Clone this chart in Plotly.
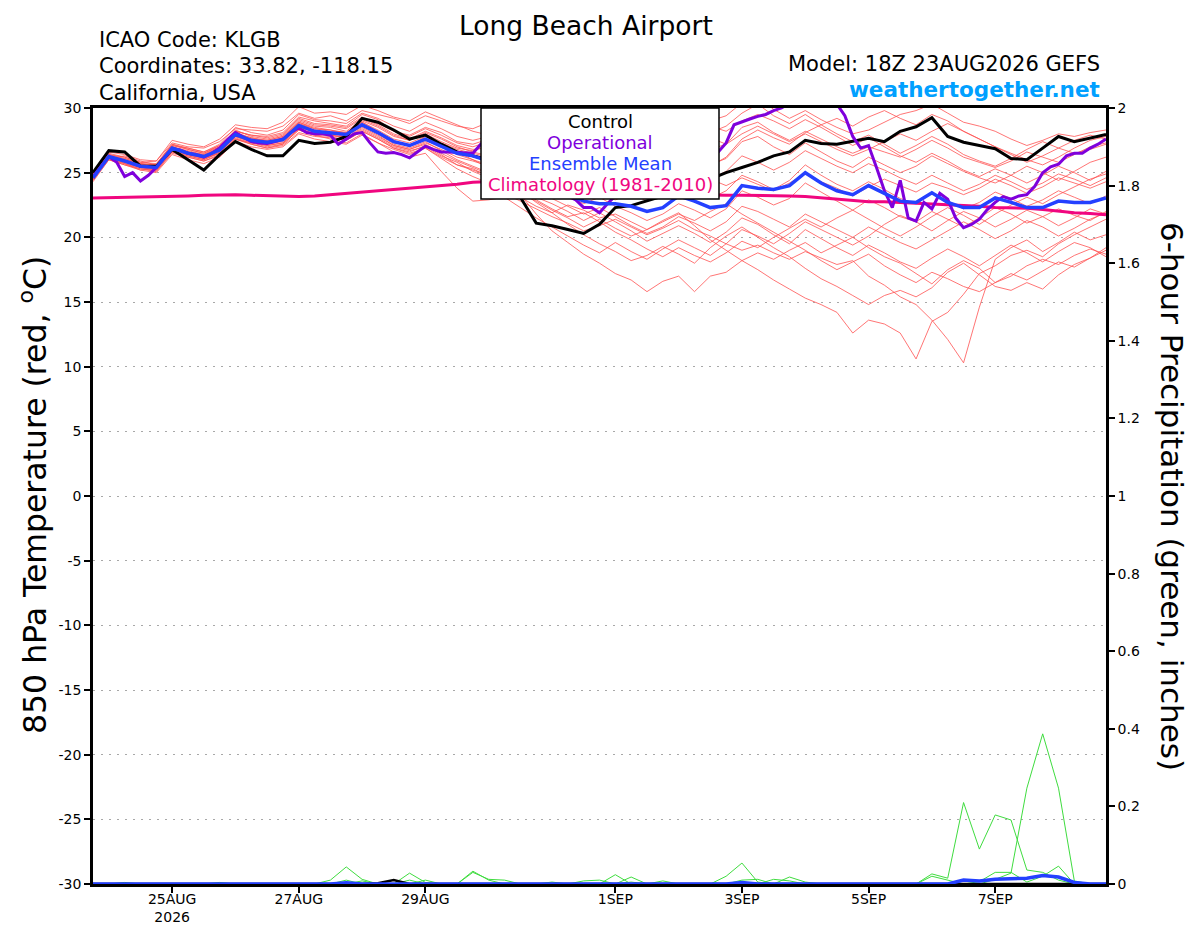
import pandas as pd
import plotly.graph_objects as go

# GEFS run, 6-hourly ensemble output, 3-hourly operational
run_start = "2026-08-23 18:00"
times = pd.date_range(run_start, periods=65, freq="6h")
op_times = pd.date_range(run_start, periods=129, freq="3h")

# 850 hPa temperature (C)
control = [25.0, 26.7, 26.6, 25.5, 25.5, 26.8, 26.0, 25.2, 26.4, 27.4, 26.8, 26.3, 26.3,
           27.5, 27.25, 27.35, 27.8, 29.2, 28.9, 28.3, 27.6, 27.9, 27.2, 26.6, 26.3,
           26.0, 24.8, 23.1, 21.1, 20.9, 20.6, 20.3, 21.0, 22.3, 22.45, 22.8, 23.2,
           23.6, 24.1, 24.5, 25.0, 25.4, 25.8, 26.3, 26.6, 27.5, 27.25, 27.2, 27.4,
           27.65, 27.4, 28.2, 28.55, 29.25, 27.8, 27.35, 27.1, 26.85, 26.1, 26.0, 26.9, 27.8, 27.4, 27.7, 27.95]

ens_mean = [24.6, 26.25, 25.9, 25.5, 25.4, 26.9, 26.5, 26.25, 26.75, 27.95, 27.5, 27.35, 27.55,
            28.65, 28.2, 28.1, 27.95, 28.7, 28.1, 27.4, 27.1, 27.6, 27.05, 26.5, 26.3,
            25.9, 25.3, 24.6, 24.0, 23.5, 23.3, 22.8, 22.6, 22.6, 22.4, 22.0, 22.3,
            23.2, 22.8, 22.3, 22.45, 24.0, 23.8, 23.7, 24.0, 25.0, 24.2, 23.6, 23.3,
            24.0, 23.4, 22.8, 22.7, 23.45, 22.7, 22.3, 22.3, 23.05, 22.7, 22.3, 22.3, 22.8, 22.7, 22.7, 23.05]

climatology = [23.05, 23.07, 23.1, 23.12, 23.15, 23.18, 23.2, 23.25, 23.3, 23.3, 23.25, 23.2, 23.15,
               23.15, 23.2, 23.3, 23.4, 23.45, 23.55, 23.65, 23.75, 23.85, 23.95, 24.1, 24.25,
               24.3, 24.35, 24.3, 24.2, 24.1, 24.0, 23.9, 23.8, 23.7, 23.6, 23.5, 23.4,
               23.35, 23.3, 23.25, 23.25, 23.25, 23.25, 23.2, 23.2, 23.15, 23.05, 22.95, 22.8,
               22.75, 22.75, 22.7, 22.6, 22.55, 22.5, 22.45, 22.4, 22.3, 22.3, 22.25, 22.15, 22.0, 21.9, 21.85, 21.75]

operational = [24.7, 25.5, 26.25, 25.8, 24.7, 25.0, 24.35, 24.8, 25.4, 26.15, 26.85, 26.75, 26.5, 26.4, 26.2, 26.5,
               26.9, 27.55, 28.1, 27.75, 27.4, 27.3, 27.25, 27.4, 27.6, 28.1, 28.45, 28.1, 28.0, 28.0, 27.9, 27.2,
               27.6, 28.0, 28.1, 27.3, 26.6, 26.5, 26.55, 26.4, 26.15, 26.6, 27.05, 26.8, 26.6, 26.6, 26.55, 26.5,
               26.5, 27.2, 27.6, 27.3, 26.8, 26.2, 25.6, 25.1, 24.6, 24.2, 23.8, 23.5, 23.2, 22.9, 22.3, 22.3,
               21.9, 22.6, 23.2, 23.6, 24.0, 24.3, 24.5, 24.8, 25.1, 25.3, 25.5, 25.7, 25.9, 26.1, 26.3, 26.6,
               27.3, 28.7, 28.95, 29.15, 29.35, 29.5, 29.8, 30.0, 30.4, 30.8, 31.2, 31.0, 30.9, 30.7, 30.3, 29.4,
               27.8, 26.9, 27.1, 25.4, 23.6, 22.3, 24.4, 21.5, 21.25, 22.7, 22.2, 23.4, 22.95, 21.5, 20.75, 21.0,
               21.4, 22.15, 22.7, 23.15, 22.95, 23.2, 23.3, 23.95, 25.0, 25.45, 25.65, 26.3, 26.5, 26.5, 26.9, 27.2,
               27.6]

member_01 = [24.8, 26.4, 26.2, 25.8, 25.9, 27.3, 27.0, 26.9, 27.4, 28.4, 28.3, 28.2, 28.6,
             29.6, 29.2, 29.4, 29.0, 29.8, 29.5, 29.2, 28.8, 29.4, 29.0, 28.6, 28.4,
             28.9, 29.4, 29.0, 28.5, 28.2, 28.8, 29.5, 29.2, 28.6, 28.1, 28.8, 29.6,
             30.2, 29.5, 29.0, 29.4, 30.4, 30.8, 29.9, 29.2, 29.8, 29.1, 28.5, 28.0,
             28.3, 28.9, 29.5, 29.8, 30.3, 29.6, 28.9, 28.6, 28.2, 27.6, 27.1, 27.5, 28.0, 27.8, 28.1, 28.3]
member_02 = [24.5, 26.1, 26.3, 25.9, 25.6, 27.1, 26.9, 26.6, 27.1, 28.2, 27.9, 27.8, 28.1,
             29.3, 29.0, 28.8, 28.6, 29.5, 29.1, 28.2, 27.9, 28.5, 28.1, 27.4, 27.2,
             27.6, 27.8, 27.2, 26.6, 26.9, 27.5, 27.1, 26.4, 25.8, 26.3, 27.0, 27.4,
             27.9, 27.3, 26.8, 27.2, 28.5, 28.9, 28.1, 27.5, 28.2, 27.6, 27.0, 26.5,
             27.0, 26.6, 26.2, 26.8, 27.5, 26.9, 26.2, 25.8, 25.4, 25.9, 26.6, 26.2, 25.8, 26.4, 27.0, 27.3]
member_03 = [24.7, 26.0, 25.6, 25.3, 25.1, 26.5, 26.2, 25.9, 26.3, 27.6, 27.2, 26.9, 27.1,
             28.1, 27.8, 27.7, 27.5, 28.2, 27.6, 26.9, 26.6, 27.1, 26.4, 25.6, 25.2,
             24.8, 24.0, 23.1, 22.4, 21.9, 22.5, 22.1, 21.5, 21.8, 21.2, 20.6, 21.3,
             21.9, 20.9, 19.8, 19.0, 18.2, 17.5, 16.7, 16.0, 15.3, 14.8, 14.2, 12.6,
             13.6, 13.3, 12.6, 10.6, 13.5, 14.2, 15.6, 17.2, 17.8, 18.6, 19.0, 18.5, 19.5, 20.2, 20.8, 21.4]
member_04 = [24.4, 26.2, 25.8, 25.4, 25.2, 26.7, 26.3, 26.0, 26.6, 27.7, 27.3, 27.0, 27.2,
             28.3, 27.9, 27.6, 27.3, 28.0, 27.3, 26.8, 26.4, 26.9, 26.1, 25.3, 24.7,
             24.2, 23.4, 22.8, 22.2, 21.6, 21.1, 20.5, 20.9, 21.4, 20.8, 20.2, 20.7,
             21.3, 20.6, 20.1, 19.5, 19.0, 19.4, 18.8, 18.3, 18.9, 18.4, 17.9, 18.2,
             17.0, 16.3, 15.4, 14.8, 13.6, 12.1, 10.3, 14.6, 18.3, 19.2, 19.8, 18.9, 19.6, 20.4, 19.8, 20.2]
member_05 = [24.6, 26.3, 25.7, 25.2, 25.3, 26.8, 26.4, 26.1, 26.5, 27.8, 27.4, 27.1, 27.3,
             28.4, 28.0, 27.9, 27.7, 28.3, 27.7, 27.0, 26.7, 27.0, 26.3, 25.8, 25.1,
             24.6, 23.9, 23.3, 21.8, 20.5, 19.6, 18.7, 18.0, 17.2, 16.7, 15.8, 16.6,
             17.0, 15.8, 17.0, 17.3, 18.2, 18.8, 18.3, 19.0, 19.6, 18.8, 19.4, 20.0,
             19.2, 18.5, 18.0, 17.2, 16.4, 17.5, 18.2, 17.6, 16.5, 17.0, 17.8, 18.3, 17.9, 18.6, 19.1, 18.7]
member_06 = [24.9, 26.4, 26.0, 25.6, 25.5, 27.0, 26.6, 26.3, 26.9, 28.0, 27.6, 27.5, 27.8,
             28.9, 28.4, 28.3, 28.0, 28.9, 28.2, 27.5, 27.0, 27.8, 27.2, 26.6, 26.0,
             25.4, 24.5, 23.6, 22.7, 21.9, 21.0, 20.2, 19.5, 18.9, 18.2, 18.6, 19.3,
             18.7, 18.0, 19.2, 20.1, 20.8, 20.0, 19.2, 18.5, 17.6, 16.8, 16.2, 15.5,
             14.8, 15.5, 15.9, 15.4, 16.1, 17.3, 18.0, 17.1, 16.2, 15.9, 16.5, 16.0, 17.1, 17.9, 18.4, 19.0]
member_07 = [24.5, 26.2, 25.9, 25.6, 25.3, 26.9, 26.5, 26.2, 26.8, 27.9, 27.6, 27.4, 27.6,
             28.8, 28.3, 28.0, 27.9, 28.8, 28.0, 27.3, 27.1, 27.5, 27.0, 26.4, 26.0,
             25.6, 25.2, 24.7, 24.1, 23.6, 23.2, 22.6, 23.1, 22.4, 21.9, 21.3, 21.8,
             22.6, 22.1, 21.5, 22.2, 23.6, 23.1, 22.5, 23.0, 24.2, 23.5, 22.8, 22.1,
             22.9, 22.3, 21.6, 21.2, 22.0, 21.4, 20.8, 21.5, 22.3, 21.8, 21.1, 21.6, 22.2, 21.7, 21.3, 22.0]
member_08 = [24.6, 26.3, 26.0, 25.7, 25.6, 27.2, 26.8, 26.5, 27.0, 28.3, 27.8, 27.6, 27.9,
             29.1, 28.7, 28.6, 28.4, 29.2, 28.7, 28.0, 27.6, 28.2, 27.7, 27.1, 26.8,
             26.9, 26.4, 25.8, 25.2, 25.6, 26.2, 25.7, 25.0, 24.6, 25.2, 25.8, 26.3,
             26.9, 26.2, 25.6, 26.1, 27.4, 27.8, 27.0, 26.4, 27.3, 26.6, 25.9, 25.4,
             26.2, 25.6, 25.0, 25.5, 26.3, 25.7, 25.1, 24.6, 24.2, 24.8, 25.5, 25.0, 24.4, 25.1, 25.8, 26.2]
member_09 = [24.3, 26.0, 25.7, 25.4, 25.2, 26.6, 26.3, 26.0, 26.5, 27.6, 27.3, 27.1, 27.3,
             28.4, 28.0, 27.9, 27.7, 28.5, 27.9, 27.1, 26.8, 27.3, 26.8, 26.2, 25.9,
             25.5, 24.8, 24.2, 23.6, 23.0, 22.4, 21.8, 22.3, 21.6, 20.9, 20.3, 20.8,
             21.6, 21.1, 20.5, 21.2, 22.4, 22.0, 21.4, 20.8, 21.8, 21.2, 20.6, 20.0,
             20.8, 20.2, 19.6, 19.1, 19.8, 20.5, 21.2, 20.6, 19.9, 20.5, 21.3, 20.8, 20.1, 20.7, 21.4, 21.9]
member_10 = [24.7, 26.2, 25.8, 25.5, 25.4, 26.9, 26.6, 26.4, 26.9, 28.0, 27.7, 27.4, 27.7,
             28.9, 28.5, 28.3, 28.1, 29.0, 28.5, 27.8, 27.5, 28.0, 27.4, 26.9, 26.7,
             27.1, 26.8, 26.2, 25.7, 26.2, 26.9, 27.5, 27.0, 26.5, 27.2, 28.0, 28.6,
             29.2, 28.7, 28.1, 28.6, 29.6, 30.3, 29.4, 28.8, 29.5, 28.7, 28.0, 27.4,
             27.9, 27.2, 26.5, 27.1, 27.8, 27.2, 26.4, 25.9, 25.5, 26.1, 26.8, 27.4, 26.9, 27.5, 27.9, 27.6]
member_11 = [24.8, 26.3, 25.9, 25.5, 25.3, 26.8, 26.4, 26.1, 26.6, 27.8, 27.4, 27.2, 27.4,
             28.5, 28.1, 28.0, 27.8, 28.6, 28.0, 27.2, 26.9, 27.4, 26.7, 26.0, 25.5,
             25.0, 24.3, 23.7, 23.1, 22.6, 22.0, 21.3, 21.9, 21.2, 20.5, 19.7, 20.3,
             20.9, 20.3, 19.6, 20.4, 21.5, 21.0, 20.2, 19.5, 20.6, 19.9, 19.2, 18.6,
             19.4, 18.8, 18.1, 17.6, 18.4, 19.1, 18.5, 17.8, 18.6, 19.4, 18.8, 18.1, 18.9, 19.6, 19.2, 18.5]
member_12 = [24.6, 26.1, 25.8, 25.6, 25.5, 27.0, 26.7, 26.4, 27.0, 28.1, 27.7, 27.5, 27.8,
             29.0, 28.6, 28.5, 28.2, 29.1, 28.6, 27.9, 27.5, 28.1, 27.6, 27.0, 26.6,
             26.3, 25.8, 25.1, 24.6, 24.9, 25.5, 25.0, 24.4, 24.0, 24.6, 25.3, 25.9,
             26.5, 26.0, 25.5, 26.2, 27.6, 28.3, 27.7, 27.2, 28.1, 28.7, 29.2, 28.6,
             29.3, 29.8, 29.2, 28.7, 29.5, 29.0, 28.2, 27.6, 27.0, 26.5, 26.0, 25.6, 26.2, 26.9, 27.5, 27.8]
member_13 = [24.5, 26.2, 26.1, 25.7, 25.4, 27.0, 26.5, 26.3, 26.8, 28.0, 27.5, 27.3, 27.5,
             28.6, 28.2, 28.1, 27.9, 28.6, 28.1, 27.4, 27.1, 27.6, 27.1, 26.5, 26.4,
             26.0, 25.5, 24.9, 24.3, 23.9, 24.4, 23.8, 23.2, 22.9, 23.4, 22.8, 23.3,
             24.0, 23.5, 23.0, 23.6, 24.8, 24.3, 23.7, 24.4, 25.6, 24.8, 24.1, 23.6,
             24.3, 23.7, 23.0, 22.6, 23.4, 22.8, 22.2, 22.7, 23.5, 23.0, 22.4, 22.9, 23.6, 23.1, 22.6, 23.2]
member_14 = [24.4, 26.0, 25.6, 25.2, 25.0, 26.4, 26.0, 25.7, 26.2, 27.4, 27.0, 26.8, 27.0,
             28.0, 27.6, 27.4, 27.2, 27.9, 27.3, 26.6, 26.2, 26.5, 25.1, 23.8, 22.8,
             22.9, 23.1, 22.3, 21.5, 20.8, 20.1, 19.4, 18.8, 19.6, 18.9, 18.3, 19.1,
             19.8, 19.2, 18.6, 19.5, 20.6, 20.1, 19.5, 20.3, 21.2, 20.6, 20.0, 19.4,
             20.1, 21.0, 21.7, 21.2, 20.5, 21.3, 22.0, 21.5, 20.8, 21.4, 22.1, 21.6, 20.9, 21.5, 22.2, 21.8]
member_15 = [24.8, 26.5, 26.2, 25.8, 25.7, 27.2, 26.9, 26.6, 27.2, 28.5, 28.1, 27.9, 28.3,
             29.5, 29.1, 29.0, 28.8, 29.6, 29.2, 28.6, 28.2, 28.9, 28.4, 27.8, 27.5,
             27.8, 28.4, 28.0, 27.5, 27.0, 27.6, 28.2, 27.8, 27.2, 27.8, 28.4, 27.9,
             28.5, 29.1, 28.6, 28.2, 29.0, 29.5, 29.0, 28.4, 29.1, 28.5, 27.8, 27.1,
             27.7, 27.0, 26.3, 25.8, 26.5, 25.9, 25.2, 24.7, 25.3, 24.8, 24.2, 24.8, 25.5, 25.0, 24.4, 25.1]
member_16 = [24.6, 26.1, 25.9, 25.4, 25.3, 26.7, 26.4, 26.1, 26.7, 27.8, 27.4, 27.2, 27.5,
             28.6, 28.1, 27.9, 27.7, 28.4, 27.8, 27.1, 26.8, 27.2, 26.5, 25.9, 25.4,
             24.9, 24.1, 23.4, 22.8, 22.1, 21.5, 20.8, 21.4, 20.7, 20.1, 20.6, 21.2,
             21.8, 21.3, 22.0, 22.6, 21.8, 21.1, 20.4, 19.7, 19.0, 18.2, 17.5, 18.1,
             18.7, 17.8, 17.1, 16.5, 17.3, 16.8, 16.2, 15.8, 16.5, 17.2, 16.7, 17.4, 18.1, 17.7, 18.4, 19.2]
member_17 = [24.7, 26.3, 25.9, 25.5, 25.5, 27.0, 26.6, 26.3, 26.9, 28.1, 27.6, 27.4, 27.7,
             28.8, 28.4, 28.2, 28.1, 28.9, 28.3, 27.6, 27.3, 27.8, 27.3, 26.8, 26.5,
             26.2, 25.7, 25.3, 24.8, 24.4, 24.9, 24.5, 23.9, 24.3, 24.9, 24.4, 24.9,
             25.5, 25.0, 24.5, 25.1, 26.3, 25.8, 25.2, 25.8, 26.7, 26.1, 25.5, 25.0,
             25.7, 25.2, 24.6, 24.1, 24.8, 24.2, 23.6, 24.1, 24.8, 24.3, 23.7, 24.2, 24.9, 24.5, 24.0, 24.6]
member_18 = [24.9, 26.6, 26.4, 26.0, 25.9, 27.5, 27.2, 27.0, 27.6, 28.7, 28.5, 28.4, 28.9,
             30.1, 29.6, 29.7, 29.5, 30.2, 29.8, 29.3, 29.0, 29.7, 29.2, 28.7, 28.2,
             27.9, 27.3, 26.7, 26.1, 25.6, 26.0, 25.4, 24.8, 24.2, 23.8, 24.3, 24.9,
             25.6, 25.1, 24.5, 24.0, 24.6, 24.1, 23.6, 24.2, 24.9, 24.3, 23.8, 23.2,
             23.9, 24.5, 24.0, 23.5, 24.2, 23.8, 23.3, 23.8, 24.5, 24.0, 23.4, 23.9, 24.6, 24.2, 23.8, 24.3]
member_19 = [24.5, 26.1, 25.7, 25.3, 25.1, 26.6, 26.2, 25.9, 26.4, 27.6, 27.2, 26.9, 27.2,
             28.3, 27.9, 27.8, 27.5, 28.2, 27.6, 26.9, 26.5, 26.9, 26.2, 25.6, 25.3,
             24.7, 24.2, 23.5, 22.9, 22.2, 21.6, 21.9, 21.2, 20.4, 19.8, 19.1, 18.5,
             19.2, 18.6, 18.1, 18.8, 19.7, 19.2, 20.0, 20.7, 21.4, 20.8, 21.5, 22.1,
             21.4, 20.7, 20.1, 20.8, 21.6, 22.3, 21.7, 21.0, 21.8, 22.5, 23.1, 22.6, 23.3, 23.9, 24.5, 24.9]
member_20 = [24.6, 26.4, 26.1, 25.7, 25.6, 27.1, 26.8, 26.5, 27.1, 28.2, 27.9, 27.7, 28.0,
             29.2, 28.8, 28.7, 28.5, 29.3, 28.8, 28.2, 27.8, 28.4, 27.9, 27.3, 27.0,
             27.4, 27.9, 27.4, 26.8, 26.3, 26.8, 26.3, 25.7, 25.2, 25.9, 26.5, 27.1,
             27.7, 28.3, 27.7, 27.2, 28.0, 28.6, 28.0, 27.4, 28.0, 27.4, 26.8, 26.3,
             26.8, 27.4, 28.0, 27.5, 28.2, 28.8, 28.2, 27.6, 27.0, 26.4, 25.8, 26.3, 26.9, 26.5, 26.8, 27.2]

members = [member_01, member_02, member_03, member_04, member_05, member_06, member_07,
           member_08, member_09, member_10, member_11, member_12, member_13, member_14,
           member_15, member_16, member_17, member_18, member_19, member_20]

# 6-hour precipitation (inches), rows of 13 steps
precip_a = [0, 0, 0, 0, 0, 0, 0, 0, 0, 0, 0, 0, 0,
            0, 0, 0.01, 0.044, 0.012, 0, 0, 0, 0, 0, 0, 0, 0,
            0, 0, 0, 0, 0, 0, 0, 0, 0, 0, 0, 0, 0,
            0, 0.02, 0.054, 0.005, 0, 0, 0, 0, 0, 0, 0, 0, 0,
            0, 0.026, 0.015, 0.21, 0.09, 0.178, 0.165, 0.036, 0.03, 0.01, 0, 0, 0]
precip_b = [0, 0, 0.004, 0, 0, 0, 0, 0, 0, 0, 0, 0, 0,
            0, 0, 0, 0, 0, 0, 0, 0.028, 0.004, 0, 0, 0.033, 0.01,
            0, 0, 0, 0, 0, 0, 0, 0.024, 0, 0, 0, 0, 0,
            0, 0, 0, 0, 0, 0, 0, 0, 0, 0, 0, 0, 0,
            0, 0, 0, 0, 0, 0.012, 0.028, 0.247, 0.387, 0.247, 0.008, 0, 0]
precip_c = [0, 0, 0, 0, 0, 0, 0, 0, 0.004, 0, 0, 0, 0,
            0, 0, 0, 0.01, 0, 0, 0, 0.01, 0, 0, 0, 0.03, 0.012,
            0.01, 0, 0, 0.005, 0, 0.008, 0.01, 0, 0.018, 0, 0.008, 0, 0,
            0, 0, 0, 0, 0.012, 0.008, 0, 0, 0, 0, 0, 0, 0,
            0, 0, 0, 0, 0.006, 0.03, 0.03, 0.005, 0.02, 0.046, 0, 0, 0]
precip_d = [0, 0, 0, 0, 0, 0, 0, 0, 0, 0, 0, 0, 0,
            0, 0, 0, 0, 0.008, 0, 0, 0, 0.01, 0, 0, 0, 0,
            0, 0, 0, 0, 0, 0, 0, 0, 0.005, 0, 0, 0, 0,
            0, 0, 0.01, 0.012, 0, 0.018, 0.005, 0, 0, 0, 0, 0, 0,
            0, 0.02, 0.01, 0, 0, 0, 0, 0, 0, 0, 0, 0, 0]
precip_members = [precip_a, precip_b, precip_c, precip_d]
precip_mean = [0, 0, 0, 0, 0, 0, 0, 0, 0, 0, 0, 0, 0,
               0, 0, 0, 0.003, 0, 0, 0, 0, 0, 0, 0, 0, 0,
               0, 0, 0, 0, 0, 0, 0, 0, 0, 0, 0, 0, 0,
               0, 0, 0.004, 0, 0, 0, 0, 0, 0, 0, 0, 0, 0,
               0, 0, 0, 0.01, 0.008, 0.012, 0.014, 0.015, 0.022, 0.018, 0.004, 0, 0]
precip_control = [0, 0, 0, 0, 0, 0, 0, 0, 0, 0, 0, 0, 0,
                  0, 0, 0, 0, 0, 0.002, 0.01, 0, 0, 0, 0, 0, 0,
                  0, 0, 0, 0, 0, 0, 0, 0, 0, 0, 0, 0, 0,
                  0, 0, 0, 0, 0, 0, 0, 0, 0, 0, 0, 0, 0,
                  0, 0, 0, 0, 0, 0, 0, 0, 0, 0, 0, 0, 0]

temp_ticks = list(range(-30, 31, 5))
date_ticks = ["2026-08-25", "2026-08-27", "2026-08-29", "2026-09-01",
              "2026-09-03", "2026-09-05", "2026-09-07"]
date_labels = ["25AUG<br>2026", "27AUG", "29AUG", "1SEP", "3SEP", "5SEP", "7SEP"]
legend_names = ["Control", "Operational", "Ensemble Mean", "Climatology (1981-2010)"]

for s in members + precip_members + [control, ens_mean, climatology, precip_mean, precip_control]:
    assert len(s) == len(times), len(s)
assert len(operational) == len(op_times)

FONT = "DejaVu Sans"
PURPLE = "#7f00dc"
BLUE = "#2440ff"
PINK = "#f0067f"
legend_colors = ["black", PURPLE, BLUE, PINK]

fig = go.Figure()

for m in members:
    fig.add_trace(go.Scatter(x=times, y=m, mode="lines",
                             line=dict(color="#ff5252", width=0.8), hoverinfo="skip"))
for p in precip_members:
    fig.add_trace(go.Scatter(x=times, y=p, mode="lines", yaxis="y2",
                             line=dict(color="#3fdc3f", width=1), hoverinfo="skip"))
fig.add_trace(go.Scatter(x=times, y=precip_control, mode="lines", yaxis="y2",
                         line=dict(color="black", width=2.5), hoverinfo="skip"))
fig.add_trace(go.Scatter(x=times, y=precip_mean, mode="lines", yaxis="y2",
                         line=dict(color=BLUE, width=3.5), hoverinfo="skip"))

fig.add_trace(go.Scatter(x=times, y=climatology, mode="lines",
                         line=dict(color=PINK, width=3)))
fig.add_trace(go.Scatter(x=times, y=control, mode="lines",
                         line=dict(color="black", width=3)))
fig.add_trace(go.Scatter(x=op_times, y=operational, mode="lines",
                         line=dict(color=PURPLE, width=3)))
fig.add_trace(go.Scatter(x=times, y=ens_mean, mode="lines",
                         line=dict(color=BLUE, width=3.5)))


# page pixel -> paper helpers (plot area sits at 93..1106 x 108..884 on the page)
def px(x):
    return (x - 93) / 1013


def py(y):
    return (884 - y) / 776


def note(text, x, y, size, xanchor="left", color="black", angle=0, bold=False):
    if bold:
        text = "<b>" + text + "</b>"
    return dict(text=text, x=px(x), y=py(y), xref="paper", yref="paper",
                xanchor=xanchor, yanchor="middle", showarrow=False, textangle=angle,
                font=dict(family=FONT, size=size, color=color))


annotations = [
    note("Long Beach Airport", 586, 25.5, 26.5, xanchor="center"),
    note("ICAO Code: KLGB", 97, 40, 21),
    note("Coordinates: 33.82, -118.15", 97, 66, 21),
    note("California, USA", 97, 93, 21),
    note("Model: 18Z 23AUG2026 GEFS", 1102, 64, 21, xanchor="right"),
    note("weathertogether.net", 1102, 89, 21.5, xanchor="right", color="#00a0ff", bold=True),
    note("850 hPa Temperature (red, <sup>o</sup>C)", 33, 495, 31.5, xanchor="center", angle=-90),
    note("6-hour Precipitation (green, inches)", 1172, 496, 31, xanchor="center", angle=90),
]
for k, (name, col) in enumerate(zip(legend_names, legend_colors)):
    annotations.append(note(name, 600, 121 + 21.3 * k, 18, xanchor="center", color=col))

legend_box = dict(type="rect", xref="paper", yref="paper", layer="above",
                  x0=px(481), x1=px(719), y0=py(199), y1=py(108),
                  fillcolor="white", line=dict(color="black", width=1.5))

axis_line = dict(showline=True, linecolor="black", linewidth=2.5, ticks="outside",
                 ticklen=6, tickwidth=1.5, tickcolor="black", zeroline=False,
                 automargin=False,
                 tickfont=dict(family=FONT, size=14, color="black"))

# the page body adds an 8px offset, so the figure is 8px smaller each way
fig.update_layout(
    width=1192, height=919,
    margin=dict(l=85, r=94, t=100, b=43),
    paper_bgcolor="white", plot_bgcolor="white",
    showlegend=False,
    font=dict(family=FONT, color="black"),
    xaxis=dict(range=[times[0], times[-1]], tickvals=date_ticks, ticktext=date_labels,
               showgrid=False, mirror=True, ticklabelstandoff=-6, **axis_line),
    yaxis=dict(range=[-30, 30], tickvals=temp_ticks, ticktext=[str(v) for v in temp_ticks],
               showgrid=True, gridcolor="#a8a8a8", gridwidth=1, griddash="2px,6px",
               mirror=True, **axis_line),
    yaxis2=dict(range=[0, 2], dtick=0.2, overlaying="y", side="right",
                showgrid=False, **axis_line),
    shapes=[legend_box],
    annotations=annotations,
)

fig.write_html("out.html")
